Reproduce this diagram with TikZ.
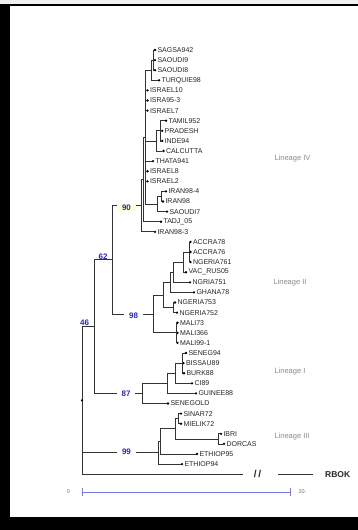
\documentclass[tikz,border=0pt]{standalone}
\usepackage{fontspec}
\setmainfont{Liberation Sans}
\definecolor{tree}{HTML}{333333}
\definecolor{boot}{HTML}{2A2AA8}
\definecolor{scalec}{HTML}{7A7AD6}
\definecolor{lin}{HTML}{8A8A8A}
\newcommand\myleaf[4]{\node[tip,label={[leaflbl]right:#4}] (#1) at (#2,#3) {};}
\newcommand\tjoin[2]{\foreach \c in {#2}{\draw[br] (#1) |- (\c);}}
\begin{document}
\begin{tikzpicture}[x=1pt,y=-1pt,
 br/.style={draw=tree, line width=0.7pt},
 tip/.style={circle, fill=black, inner sep=0pt, minimum size=2.6pt},
 leaflbl/.style={font=\fontsize{7}{8}\selectfont, text=black!85, inner sep=0.8pt, label distance=0pt},
 bs/.style={font=\bfseries\fontsize{8}{9}\selectfont, text=boot, inner sep=0.5pt},
 bsfill/.style={bs, fill=white, inner xsep=5pt},
 lineage/.style={font=\fontsize{7.5}{9}\selectfont, text=lin, anchor=west},
 scalebar/.style={draw=scalec, line width=0.8pt},
 scl/.style={font=\fontsize{5.5}{6}\selectfont, text=black!55}]
\useasboundingbox (0,0) rectangle (358,530);
% frame
\fill[black!6] (0,0) rectangle (358,530);
\fill[white] (10,6) rectangle (358,517);
\fill[black] (0,4) rectangle (10,530);
\fill[black] (0,4) rectangle (358,6);
\fill[black] (0,517) rectangle (358,530);
% leaves
\myleaf{l1}{155}{50.0}{SAGSA942}
\myleaf{l2}{155}{60.1}{SAOUDI9}
\myleaf{l3}{155}{70.2}{SAOUDI8}
\myleaf{l4}{159}{80.3}{TURQUIE98}
\myleaf{l5}{147.5}{90.4}{ISRAEL10}
\myleaf{l6}{147.5}{100.5}{ISRA95-3}
\myleaf{l7}{147.5}{110.6}{ISRAEL7}
\myleaf{l8}{166}{120.7}{TAMIL952}
\myleaf{l9}{162.2}{130.8}{PRADESH}
\myleaf{l10}{162.2}{140.9}{INDE94}
\myleaf{l11}{163.5}{151.0}{CALCUTTA}
\myleaf{l12}{153}{161.1}{THATA941}
\myleaf{l13}{147.5}{171.2}{ISRAEL8}
\myleaf{l14}{147.5}{181.3}{ISRAEL2}
\myleaf{l15}{166}{191.4}{IRAN98-4}
\myleaf{l16}{163}{201.5}{IRAN98}
\myleaf{l17}{167}{211.6}{SAOUDI7}
\myleaf{l18}{161}{221.7}{TADJ\_05}
\myleaf{l19}{155}{231.8}{IRAN98-3}
\myleaf{l20}{190.5}{241.9}{ACCRA78}
\myleaf{l21}{190.5}{252.0}{ACCRA76}
\myleaf{l22}{190.5}{262.1}{NGERIA761}
\myleaf{l23}{186}{272.2}{VAC\_RUS05}
\myleaf{l24}{190}{282.3}{NGRIA751}
\myleaf{l25}{194}{292.4}{GHANA78}
\myleaf{l26}{175}{302.5}{NGERIA753}
\myleaf{l27}{177}{312.6}{NGERIA752}
\myleaf{l28}{177.5}{322.7}{MALI73}
\myleaf{l29}{177.5}{332.8}{MALI366}
\myleaf{l30}{177.5}{342.9}{MALI99-1}
\myleaf{l31}{186}{353.0}{SENEG94}
\myleaf{l32}{183.5}{363.1}{BISSAU89}
\myleaf{l33}{184}{373.2}{BURK88}
\myleaf{l34}{192}{383.3}{CI89}
\myleaf{l35}{196}{393.4}{GUINEE88}
\myleaf{l36}{168}{403.5}{SENEGOLD}
\myleaf{l37}{181}{413.6}{SINAR72}
\myleaf{l38}{181}{423.7}{MIELIK72}
\myleaf{l39}{221}{433.8}{IBRI}
\myleaf{l40}{224}{443.9}{DORCAS}
\myleaf{l41}{197}{454.0}{ETHIOP95}
\myleaf{l42}{182}{464.1}{ETHIOP94}
% internal nodes
\coordinate (n5) at (153.3,60.1);
\coordinate (n6) at (151.5,70.2);
\coordinate (n1) at (160.5,130.8);
\coordinate (n2) at (156,140.9);
\coordinate (n3) at (161,196.45);
\coordinate (n4) at (157,204.0);
\coordinate (P) at (145.5,137.1);
\coordinate (Q) at (143.5,179.4);
\coordinate (N90) at (141.5,205.6);
\coordinate (m1) at (189,252.0);
\coordinate (m2) at (183,262.1);
\coordinate (m3) at (173,272.2);
\coordinate (m4) at (170,282.3);
\coordinate (m5) at (173,307.55);
\coordinate (m6) at (163,294.9);
\coordinate (m7) at (176,332.8);
\coordinate (N98) at (153,313.9);
\coordinate (N62) at (112,259.7);
\coordinate (k1) at (182,363.1);
\coordinate (k2) at (175,373.2);
\coordinate (k3) at (167,383.3);
\coordinate (N87) at (142,393.4);
\coordinate (N46) at (94,326.6);
\coordinate (j1) at (178,418.65);
\coordinate (j2) at (218,438.85);
\coordinate (j3) at (175,428.75);
\coordinate (j4) at (160,441.4);
\coordinate (N99) at (158,452.75);
\coordinate (root) at (82,400.4);
% branches
\tjoin{n5}{l1,l2,l3}
\tjoin{n6}{n5,l4}
\tjoin{n1}{l8,l9,l10}
\tjoin{n2}{n1,l11}
\tjoin{n3}{l15,l16}
\tjoin{n4}{n3,l17}
\tjoin{P}{n6,l5,l6,l7,n2,l12,l13,l14,n4}
\tjoin{Q}{P,l18}
\tjoin{N90}{Q,l19}
\tjoin{m1}{l20,l21,l22}
\tjoin{m2}{m1,l23}
\tjoin{m3}{m2,l24}
\tjoin{m4}{m3,l25}
\tjoin{m5}{l26,l27}
\tjoin{m6}{m4,m5}
\tjoin{m7}{l28,l29,l30}
\tjoin{N98}{m6,m7}
\tjoin{N62}{N90,N98}
\tjoin{k1}{l31,l32,l33}
\tjoin{k2}{k1,l34}
\tjoin{k3}{k2,l35}
\tjoin{N87}{k3,l36}
\tjoin{N46}{N62,N87}
\tjoin{j1}{l37,l38}
\tjoin{j2}{l39,l40}
\tjoin{j3}{j1,j2}
\tjoin{j4}{j3,l41}
\tjoin{N99}{j4,l42}
\tjoin{root}{N46,N99}
% outgroup
\coordinate (rb1) at (243,474.2);
\coordinate (rb2) at (278,474.2);
\coordinate (rb3) at (313,474.2);
\draw[br] (root) |- (rb1);
\draw[br] (rb2) -- (rb3);
\node[font=\bfseries\fontsize{10}{11}\selectfont, text=black!85] (brk) at (257.5,474.2) {/\,/};
\node[font=\bfseries\fontsize{8.5}{10}\selectfont, text=black!85, anchor=west, inner sep=0pt] (rbok) at (325,474.2) {RBOK};
\node[tip, minimum size=2.4pt] (rootdot) at (root) {};
% bootstrap values
\node[bs] (b46) at (84.5,322.3) {46};
\node[bs] (b62) at (103,256.3) {62};
\node[bsfill, fill=yellow!15] (b90) at (126.5,207.5) {90};
\node[bsfill] (b98) at (133.5,315.5) {98};
\node[bsfill] (b87) at (126,393.6) {87};
\node[bsfill] (b99) at (126.5,451.8) {99};
% lineage labels
\node[lineage] (lin4) at (271,159) {Lineage IV};
\node[lineage] (lin2) at (270,283) {Lineage II};
\node[lineage] (lin1) at (271,372) {Lineage I};
\node[lineage] (lin3) at (271,437) {Lineage III};
% scale bar
\coordinate (s0) at (82,492);
\coordinate (s1) at (290,492);
\draw[scalebar] (s0) -- (s1);
\draw[scalebar] (s0) ++(0,-4) -- ++(0,8);
\draw[scalebar] (s1) ++(0,-4) -- ++(0,8);
\node[scl] (s0l) at (68.5,492) {0};
\node[scl, anchor=west] (s1l) at (295,492) {20.};
\end{tikzpicture}
\end{document}
